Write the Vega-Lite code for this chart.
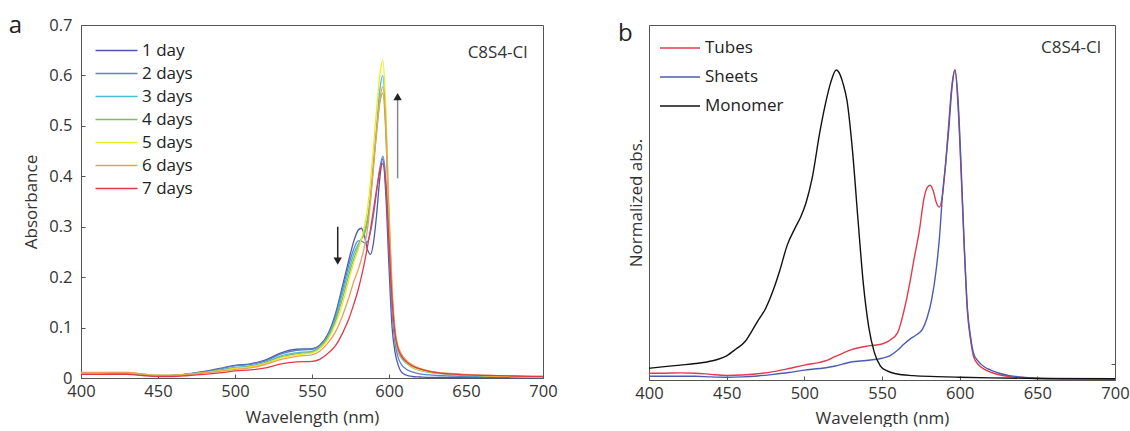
{
"$schema": "https://vega.github.io/schema/vega-lite/v6.json",
"background": "white",
"padding": {"left": 8, "right": 0, "top": 13, "bottom": 0},
"config": {
  "font": "Open Sans",
  "view": {"stroke": "#555", "strokeWidth": 1},
  "axis": {"labelFont": "Open Sans", "labelFontSize": 16.5, "labelColor": "#333", "labelFlush": false, "titleFont": "Open Sans", "titleFontSize": 17, "titleFontWeight": "normal", "titleColor": "#333", "domainColor": "#555", "tickColor": "#555", "tickSize": -4, "grid": false},
  "legend": {"title": null, "symbolStrokeWidth": 1.5, "labelFont": "Open Sans", "labelFontSize": 17, "labelColor": "#222"},
  "title": {"font": "Open Sans", "fontWeight": "normal", "color": "#222"}
},
"spacing": 59,
"resolve": {"scale": {"color": "independent"}},
"datasets": {
"left": [
{"w":400,"a":0.009,"s":"1 day"},{"w":410,"a":0.009,"s":"1 day"},{"w":420,"a":0.009,"s":"1 day"},{"w":430,"a":0.009,"s":"1 day"},{"w":440,"a":0.006,"s":"1 day"},{"w":450,"a":0.004,"s":"1 day"},{"w":460,"a":0.005,"s":"1 day"},{"w":470,"a":0.008,"s":"1 day"},{"w":480,"a":0.013,"s":"1 day"},{"w":490,"a":0.019,"s":"1 day"},{"w":500,"a":0.025,"s":"1 day"},{"w":510,"a":0.028,"s":"1 day"},{"w":520,"a":0.036,"s":"1 day"},{"w":530,"a":0.05,"s":"1 day"},{"w":540,"a":0.057,"s":"1 day"},{"w":550,"a":0.058,"s":"1 day"},{"w":555,"a":0.065,"s":"1 day"},
{"w":560,"a":0.085,"s":"1 day"},{"w":565,"a":0.125,"s":"1 day"},{"w":570,"a":0.185,"s":"1 day"},{"w":574,"a":0.235,"s":"1 day"},{"w":577,"a":0.27,"s":"1 day"},{"w":580,"a":0.293,"s":"1 day"},{"w":582,"a":0.297,"s":"1 day"},{"w":584,"a":0.283,"s":"1 day"},{"w":586,"a":0.255,"s":"1 day"},{"w":588,"a":0.245,"s":"1 day"},{"w":590,"a":0.27,"s":"1 day"},{"w":592,"a":0.325,"s":"1 day"},{"w":594,"a":0.395,"s":"1 day"},{"w":596,"a":0.435,"s":"1 day"},{"w":598,"a":0.36,"s":"1 day"},{"w":600,"a":0.22,"s":"1 day"},{"w":602,"a":0.1,"s":"1 day"},{"w":604,"a":0.05,"s":"1 day"},{"w":606,"a":0.025,"s":"1 day"},{"w":608,"a":0.012,"s":"1 day"},{"w":611,"a":0.006,"s":"1 day"},{"w":615,"a":0.003,"s":"1 day"},{"w":620,"a":0.002,"s":"1 day"},{"w":626,"a":0.001,"s":"1 day"},{"w":632,"a":0.001,"s":"1 day"},{"w":640,"a":0.001,"s":"1 day"},{"w":650,"a":0.001,"s":"1 day"},{"w":665,"a":0.001,"s":"1 day"},{"w":680,"a":0.001,"s":"1 day"},{"w":700,"a":0.001,"s":"1 day"},

{"w":400,"a":0.009,"s":"2 days"},{"w":410,"a":0.009,"s":"2 days"},{"w":420,"a":0.009,"s":"2 days"},{"w":430,"a":0.009,"s":"2 days"},{"w":440,"a":0.006,"s":"2 days"},{"w":450,"a":0.004,"s":"2 days"},{"w":460,"a":0.005,"s":"2 days"},{"w":470,"a":0.008,"s":"2 days"},{"w":480,"a":0.012,"s":"2 days"},{"w":490,"a":0.018,"s":"2 days"},{"w":500,"a":0.024,"s":"2 days"},{"w":510,"a":0.027,"s":"2 days"},{"w":520,"a":0.034,"s":"2 days"},{"w":530,"a":0.048,"s":"2 days"},{"w":540,"a":0.055,"s":"2 days"},{"w":550,"a":0.057,"s":"2 days"},{"w":555,"a":0.064,"s":"2 days"},
{"w":560,"a":0.082,"s":"2 days"},{"w":565,"a":0.12,"s":"2 days"},{"w":570,"a":0.178,"s":"2 days"},{"w":574,"a":0.225,"s":"2 days"},{"w":577,"a":0.255,"s":"2 days"},{"w":580,"a":0.272,"s":"2 days"},{"w":582,"a":0.272,"s":"2 days"},{"w":584,"a":0.268,"s":"2 days"},{"w":586,"a":0.27,"s":"2 days"},{"w":588,"a":0.29,"s":"2 days"},{"w":590,"a":0.325,"s":"2 days"},{"w":592,"a":0.37,"s":"2 days"},{"w":594,"a":0.415,"s":"2 days"},{"w":596,"a":0.44,"s":"2 days"},{"w":598,"a":0.39,"s":"2 days"},{"w":600,"a":0.26,"s":"2 days"},{"w":602,"a":0.13,"s":"2 days"},{"w":604,"a":0.068,"s":"2 days"},{"w":606,"a":0.04,"s":"2 days"},{"w":608,"a":0.027,"s":"2 days"},{"w":611,"a":0.018,"s":"2 days"},{"w":615,"a":0.012,"s":"2 days"},{"w":620,"a":0.008,"s":"2 days"},{"w":626,"a":0.006,"s":"2 days"},{"w":632,"a":0.005,"s":"2 days"},{"w":640,"a":0.004,"s":"2 days"},{"w":650,"a":0.003,"s":"2 days"},{"w":665,"a":0.003,"s":"2 days"},{"w":680,"a":0.002,"s":"2 days"},{"w":700,"a":0.002,"s":"2 days"},

{"w":400,"a":0.01,"s":"3 days"},{"w":410,"a":0.01,"s":"3 days"},{"w":420,"a":0.01,"s":"3 days"},{"w":430,"a":0.01,"s":"3 days"},{"w":440,"a":0.007,"s":"3 days"},{"w":450,"a":0.005,"s":"3 days"},{"w":460,"a":0.005,"s":"3 days"},{"w":470,"a":0.008,"s":"3 days"},{"w":480,"a":0.011,"s":"3 days"},{"w":490,"a":0.016,"s":"3 days"},{"w":500,"a":0.021,"s":"3 days"},{"w":510,"a":0.024,"s":"3 days"},{"w":520,"a":0.031,"s":"3 days"},{"w":530,"a":0.044,"s":"3 days"},{"w":540,"a":0.05,"s":"3 days"},{"w":550,"a":0.053,"s":"3 days"},{"w":555,"a":0.062,"s":"3 days"},
{"w":560,"a":0.08,"s":"3 days"},{"w":565,"a":0.115,"s":"3 days"},{"w":570,"a":0.17,"s":"3 days"},{"w":574,"a":0.215,"s":"3 days"},{"w":577,"a":0.245,"s":"3 days"},{"w":580,"a":0.265,"s":"3 days"},{"w":582,"a":0.275,"s":"3 days"},{"w":584,"a":0.285,"s":"3 days"},{"w":586,"a":0.31,"s":"3 days"},{"w":588,"a":0.36,"s":"3 days"},{"w":590,"a":0.43,"s":"3 days"},{"w":592,"a":0.5,"s":"3 days"},{"w":594,"a":0.57,"s":"3 days"},{"w":596,"a":0.6,"s":"3 days"},{"w":598,"a":0.5,"s":"3 days"},{"w":600,"a":0.31,"s":"3 days"},{"w":602,"a":0.16,"s":"3 days"},{"w":604,"a":0.08,"s":"3 days"},{"w":606,"a":0.052,"s":"3 days"},{"w":608,"a":0.04,"s":"3 days"},{"w":611,"a":0.03,"s":"3 days"},{"w":615,"a":0.021,"s":"3 days"},{"w":620,"a":0.015,"s":"3 days"},{"w":626,"a":0.011,"s":"3 days"},{"w":632,"a":0.009,"s":"3 days"},{"w":640,"a":0.007,"s":"3 days"},{"w":650,"a":0.005,"s":"3 days"},{"w":665,"a":0.004,"s":"3 days"},{"w":680,"a":0.003,"s":"3 days"},{"w":700,"a":0.002,"s":"3 days"},

{"w":400,"a":0.01,"s":"4 days"},{"w":410,"a":0.01,"s":"4 days"},{"w":420,"a":0.01,"s":"4 days"},{"w":430,"a":0.01,"s":"4 days"},{"w":440,"a":0.007,"s":"4 days"},{"w":450,"a":0.005,"s":"4 days"},{"w":460,"a":0.005,"s":"4 days"},{"w":470,"a":0.008,"s":"4 days"},{"w":480,"a":0.011,"s":"4 days"},{"w":490,"a":0.015,"s":"4 days"},{"w":500,"a":0.02,"s":"4 days"},{"w":510,"a":0.023,"s":"4 days"},{"w":520,"a":0.03,"s":"4 days"},{"w":530,"a":0.042,"s":"4 days"},{"w":540,"a":0.048,"s":"4 days"},{"w":550,"a":0.051,"s":"4 days"},{"w":555,"a":0.06,"s":"4 days"},
{"w":560,"a":0.078,"s":"4 days"},{"w":565,"a":0.11,"s":"4 days"},{"w":570,"a":0.16,"s":"4 days"},{"w":574,"a":0.205,"s":"4 days"},{"w":577,"a":0.235,"s":"4 days"},{"w":580,"a":0.26,"s":"4 days"},{"w":582,"a":0.275,"s":"4 days"},{"w":584,"a":0.29,"s":"4 days"},{"w":586,"a":0.315,"s":"4 days"},{"w":588,"a":0.36,"s":"4 days"},{"w":590,"a":0.425,"s":"4 days"},{"w":592,"a":0.49,"s":"4 days"},{"w":594,"a":0.545,"s":"4 days"},{"w":596,"a":0.565,"s":"4 days"},{"w":598,"a":0.48,"s":"4 days"},{"w":600,"a":0.31,"s":"4 days"},{"w":602,"a":0.165,"s":"4 days"},{"w":604,"a":0.085,"s":"4 days"},{"w":606,"a":0.055,"s":"4 days"},{"w":608,"a":0.043,"s":"4 days"},{"w":611,"a":0.032,"s":"4 days"},{"w":615,"a":0.022,"s":"4 days"},{"w":620,"a":0.016,"s":"4 days"},{"w":626,"a":0.012,"s":"4 days"},{"w":632,"a":0.01,"s":"4 days"},{"w":640,"a":0.008,"s":"4 days"},{"w":650,"a":0.006,"s":"4 days"},{"w":665,"a":0.004,"s":"4 days"},{"w":680,"a":0.003,"s":"4 days"},{"w":700,"a":0.002,"s":"4 days"},

{"w":400,"a":0.01,"s":"5 days"},{"w":410,"a":0.01,"s":"5 days"},{"w":420,"a":0.011,"s":"5 days"},{"w":430,"a":0.011,"s":"5 days"},{"w":440,"a":0.008,"s":"5 days"},{"w":450,"a":0.005,"s":"5 days"},{"w":460,"a":0.005,"s":"5 days"},{"w":470,"a":0.007,"s":"5 days"},{"w":480,"a":0.01,"s":"5 days"},{"w":490,"a":0.014,"s":"5 days"},{"w":500,"a":0.019,"s":"5 days"},{"w":510,"a":0.022,"s":"5 days"},{"w":520,"a":0.029,"s":"5 days"},{"w":530,"a":0.04,"s":"5 days"},{"w":540,"a":0.046,"s":"5 days"},{"w":550,"a":0.05,"s":"5 days"},{"w":555,"a":0.058,"s":"5 days"},
{"w":560,"a":0.075,"s":"5 days"},{"w":565,"a":0.105,"s":"5 days"},{"w":570,"a":0.15,"s":"5 days"},{"w":574,"a":0.195,"s":"5 days"},{"w":577,"a":0.228,"s":"5 days"},{"w":580,"a":0.255,"s":"5 days"},{"w":582,"a":0.275,"s":"5 days"},{"w":584,"a":0.3,"s":"5 days"},{"w":586,"a":0.335,"s":"5 days"},{"w":588,"a":0.39,"s":"5 days"},{"w":590,"a":0.46,"s":"5 days"},{"w":592,"a":0.535,"s":"5 days"},{"w":594,"a":0.6,"s":"5 days"},{"w":596,"a":0.63,"s":"5 days"},{"w":598,"a":0.53,"s":"5 days"},{"w":600,"a":0.33,"s":"5 days"},{"w":602,"a":0.17,"s":"5 days"},{"w":604,"a":0.085,"s":"5 days"},{"w":606,"a":0.055,"s":"5 days"},{"w":608,"a":0.043,"s":"5 days"},{"w":611,"a":0.032,"s":"5 days"},{"w":615,"a":0.022,"s":"5 days"},{"w":620,"a":0.016,"s":"5 days"},{"w":626,"a":0.012,"s":"5 days"},{"w":632,"a":0.01,"s":"5 days"},{"w":640,"a":0.008,"s":"5 days"},{"w":650,"a":0.006,"s":"5 days"},{"w":665,"a":0.004,"s":"5 days"},{"w":680,"a":0.003,"s":"5 days"},{"w":700,"a":0.002,"s":"5 days"},

{"w":400,"a":0.011,"s":"6 days"},{"w":410,"a":0.011,"s":"6 days"},{"w":420,"a":0.011,"s":"6 days"},{"w":430,"a":0.011,"s":"6 days"},{"w":440,"a":0.008,"s":"6 days"},{"w":450,"a":0.005,"s":"6 days"},{"w":460,"a":0.005,"s":"6 days"},{"w":470,"a":0.007,"s":"6 days"},{"w":480,"a":0.01,"s":"6 days"},{"w":490,"a":0.013,"s":"6 days"},{"w":500,"a":0.017,"s":"6 days"},{"w":510,"a":0.02,"s":"6 days"},{"w":520,"a":0.027,"s":"6 days"},{"w":530,"a":0.037,"s":"6 days"},{"w":540,"a":0.043,"s":"6 days"},{"w":550,"a":0.046,"s":"6 days"},{"w":555,"a":0.053,"s":"6 days"},
{"w":560,"a":0.068,"s":"6 days"},{"w":565,"a":0.09,"s":"6 days"},{"w":570,"a":0.125,"s":"6 days"},{"w":574,"a":0.16,"s":"6 days"},{"w":577,"a":0.19,"s":"6 days"},{"w":580,"a":0.215,"s":"6 days"},{"w":582,"a":0.235,"s":"6 days"},{"w":584,"a":0.26,"s":"6 days"},{"w":586,"a":0.295,"s":"6 days"},{"w":588,"a":0.35,"s":"6 days"},{"w":590,"a":0.42,"s":"6 days"},{"w":592,"a":0.49,"s":"6 days"},{"w":594,"a":0.55,"s":"6 days"},{"w":596,"a":0.578,"s":"6 days"},{"w":598,"a":0.5,"s":"6 days"},{"w":600,"a":0.33,"s":"6 days"},{"w":602,"a":0.18,"s":"6 days"},{"w":604,"a":0.095,"s":"6 days"},{"w":606,"a":0.062,"s":"6 days"},{"w":608,"a":0.048,"s":"6 days"},{"w":611,"a":0.036,"s":"6 days"},{"w":615,"a":0.026,"s":"6 days"},{"w":620,"a":0.019,"s":"6 days"},{"w":626,"a":0.014,"s":"6 days"},{"w":632,"a":0.011,"s":"6 days"},{"w":640,"a":0.009,"s":"6 days"},{"w":650,"a":0.007,"s":"6 days"},{"w":665,"a":0.005,"s":"6 days"},{"w":680,"a":0.004,"s":"6 days"},{"w":700,"a":0.003,"s":"6 days"},

{"w":400,"a":0.007,"s":"7 days"},{"w":410,"a":0.007,"s":"7 days"},{"w":420,"a":0.007,"s":"7 days"},{"w":430,"a":0.007,"s":"7 days"},{"w":440,"a":0.005,"s":"7 days"},{"w":450,"a":0.003,"s":"7 days"},{"w":460,"a":0.003,"s":"7 days"},{"w":470,"a":0.005,"s":"7 days"},{"w":480,"a":0.007,"s":"7 days"},{"w":490,"a":0.01,"s":"7 days"},{"w":500,"a":0.014,"s":"7 days"},{"w":510,"a":0.016,"s":"7 days"},{"w":520,"a":0.02,"s":"7 days"},{"w":530,"a":0.028,"s":"7 days"},{"w":540,"a":0.032,"s":"7 days"},{"w":550,"a":0.033,"s":"7 days"},{"w":555,"a":0.037,"s":"7 days"},
{"w":560,"a":0.048,"s":"7 days"},{"w":565,"a":0.063,"s":"7 days"},{"w":570,"a":0.09,"s":"7 days"},{"w":574,"a":0.118,"s":"7 days"},{"w":577,"a":0.145,"s":"7 days"},{"w":580,"a":0.175,"s":"7 days"},{"w":582,"a":0.2,"s":"7 days"},{"w":584,"a":0.228,"s":"7 days"},{"w":586,"a":0.26,"s":"7 days"},{"w":588,"a":0.295,"s":"7 days"},{"w":590,"a":0.335,"s":"7 days"},{"w":592,"a":0.375,"s":"7 days"},{"w":594,"a":0.41,"s":"7 days"},{"w":596,"a":0.425,"s":"7 days"},{"w":598,"a":0.38,"s":"7 days"},{"w":600,"a":0.27,"s":"7 days"},{"w":602,"a":0.155,"s":"7 days"},{"w":604,"a":0.085,"s":"7 days"},{"w":606,"a":0.057,"s":"7 days"},{"w":608,"a":0.044,"s":"7 days"},{"w":611,"a":0.033,"s":"7 days"},{"w":615,"a":0.024,"s":"7 days"},{"w":620,"a":0.018,"s":"7 days"},{"w":626,"a":0.013,"s":"7 days"},{"w":632,"a":0.01,"s":"7 days"},{"w":640,"a":0.008,"s":"7 days"},{"w":650,"a":0.006,"s":"7 days"},{"w":665,"a":0.005,"s":"7 days"},{"w":680,"a":0.004,"s":"7 days"},{"w":700,"a":0.003,"s":"7 days"}
],
"right": [
{"w":400,"a":0.022,"s":"Tubes"},{"w":410,"a":0.022,"s":"Tubes"},{"w":420,"a":0.023,"s":"Tubes"},{"w":430,"a":0.022,"s":"Tubes"},{"w":440,"a":0.018,"s":"Tubes"},{"w":450,"a":0.015,"s":"Tubes"},{"w":460,"a":0.016,"s":"Tubes"},{"w":470,"a":0.02,"s":"Tubes"},{"w":480,"a":0.027,"s":"Tubes"},{"w":490,"a":0.037,"s":"Tubes"},{"w":500,"a":0.048,"s":"Tubes"},{"w":510,"a":0.057,"s":"Tubes"},{"w":515,"a":0.064,"s":"Tubes"},{"w":520,"a":0.076,"s":"Tubes"},{"w":525,"a":0.087,"s":"Tubes"},{"w":530,"a":0.097,"s":"Tubes"},{"w":535,"a":0.104,"s":"Tubes"},{"w":540,"a":0.109,"s":"Tubes"},{"w":545,"a":0.112,"s":"Tubes"},{"w":550,"a":0.116,"s":"Tubes"},{"w":555,"a":0.128,"s":"Tubes"},{"w":560,"a":0.152,"s":"Tubes"},{"w":564,"a":0.22,"s":"Tubes"},{"w":568,"a":0.316,"s":"Tubes"},{"w":571,"a":0.4,"s":"Tubes"},{"w":574,"a":0.48,"s":"Tubes"},{"w":577,"a":0.585,"s":"Tubes"},{"w":579,"a":0.62,"s":"Tubes"},{"w":581,"a":0.628,"s":"Tubes"},{"w":583,"a":0.61,"s":"Tubes"},{"w":585,"a":0.572,"s":"Tubes"},{"w":587,"a":0.558,"s":"Tubes"},{"w":589,"a":0.6,"s":"Tubes"},{"w":591,"a":0.7,"s":"Tubes"},{"w":593,"a":0.83,"s":"Tubes"},{"w":595,"a":0.95,"s":"Tubes"},{"w":597,"a":1.0,"s":"Tubes"},{"w":599,"a":0.88,"s":"Tubes"},{"w":601,"a":0.66,"s":"Tubes"},{"w":603,"a":0.42,"s":"Tubes"},{"w":605,"a":0.22,"s":"Tubes"},{"w":607,"a":0.13,"s":"Tubes"},{"w":609,"a":0.075,"s":"Tubes"},{"w":612,"a":0.05,"s":"Tubes"},{"w":616,"a":0.034,"s":"Tubes"},{"w":620,"a":0.025,"s":"Tubes"},{"w":626,"a":0.016,"s":"Tubes"},{"w":632,"a":0.011,"s":"Tubes"},{"w":640,"a":0.008,"s":"Tubes"},{"w":650,"a":0.005,"s":"Tubes"},{"w":670,"a":0.004,"s":"Tubes"},{"w":700,"a":0.003,"s":"Tubes"},

{"w":400,"a":0.012,"s":"Sheets"},{"w":410,"a":0.012,"s":"Sheets"},{"w":420,"a":0.012,"s":"Sheets"},{"w":430,"a":0.012,"s":"Sheets"},{"w":440,"a":0.01,"s":"Sheets"},{"w":450,"a":0.009,"s":"Sheets"},{"w":460,"a":0.01,"s":"Sheets"},{"w":470,"a":0.013,"s":"Sheets"},{"w":480,"a":0.018,"s":"Sheets"},{"w":490,"a":0.024,"s":"Sheets"},{"w":500,"a":0.032,"s":"Sheets"},{"w":510,"a":0.037,"s":"Sheets"},{"w":520,"a":0.045,"s":"Sheets"},{"w":525,"a":0.052,"s":"Sheets"},{"w":530,"a":0.058,"s":"Sheets"},{"w":540,"a":0.063,"s":"Sheets"},{"w":550,"a":0.07,"s":"Sheets"},{"w":555,"a":0.078,"s":"Sheets"},{"w":560,"a":0.096,"s":"Sheets"},{"w":564,"a":0.115,"s":"Sheets"},{"w":568,"a":0.132,"s":"Sheets"},{"w":572,"a":0.145,"s":"Sheets"},{"w":576,"a":0.163,"s":"Sheets"},{"w":579,"a":0.2,"s":"Sheets"},{"w":582,"a":0.26,"s":"Sheets"},{"w":585,"a":0.36,"s":"Sheets"},{"w":587,"a":0.46,"s":"Sheets"},{"w":589,"a":0.6,"s":"Sheets"},{"w":591,"a":0.7,"s":"Sheets"},{"w":593,"a":0.81,"s":"Sheets"},{"w":595,"a":0.94,"s":"Sheets"},{"w":597,"a":1.0,"s":"Sheets"},{"w":599,"a":0.9,"s":"Sheets"},{"w":601,"a":0.68,"s":"Sheets"},{"w":603,"a":0.43,"s":"Sheets"},{"w":605,"a":0.23,"s":"Sheets"},{"w":607,"a":0.14,"s":"Sheets"},{"w":609,"a":0.085,"s":"Sheets"},{"w":612,"a":0.06,"s":"Sheets"},{"w":616,"a":0.042,"s":"Sheets"},{"w":620,"a":0.032,"s":"Sheets"},{"w":626,"a":0.021,"s":"Sheets"},{"w":632,"a":0.014,"s":"Sheets"},{"w":640,"a":0.009,"s":"Sheets"},{"w":650,"a":0.006,"s":"Sheets"},{"w":670,"a":0.004,"s":"Sheets"},{"w":700,"a":0.003,"s":"Sheets"},

{"w":400,"a":0.038,"s":"Monomer"},{"w":410,"a":0.043,"s":"Monomer"},{"w":420,"a":0.048,"s":"Monomer"},{"w":430,"a":0.053,"s":"Monomer"},{"w":438,"a":0.059,"s":"Monomer"},{"w":444,"a":0.066,"s":"Monomer"},{"w":450,"a":0.078,"s":"Monomer"},{"w":456,"a":0.1,"s":"Monomer"},{"w":462,"a":0.125,"s":"Monomer"},{"w":466,"a":0.156,"s":"Monomer"},{"w":470,"a":0.19,"s":"Monomer"},{"w":475,"a":0.23,"s":"Monomer"},{"w":480,"a":0.29,"s":"Monomer"},{"w":484,"a":0.35,"s":"Monomer"},{"w":489,"a":0.435,"s":"Monomer"},{"w":494,"a":0.49,"s":"Monomer"},{"w":498,"a":0.53,"s":"Monomer"},{"w":501,"a":0.57,"s":"Monomer"},{"w":505,"a":0.65,"s":"Monomer"},{"w":510,"a":0.8,"s":"Monomer"},{"w":514,"a":0.9,"s":"Monomer"},{"w":517,"a":0.96,"s":"Monomer"},{"w":520.5,"a":1.0,"s":"Monomer"},{"w":523,"a":0.985,"s":"Monomer"},{"w":525,"a":0.955,"s":"Monomer"},{"w":527.5,"a":0.9,"s":"Monomer"},{"w":531,"a":0.74,"s":"Monomer"},{"w":534.5,"a":0.52,"s":"Monomer"},{"w":538,"a":0.31,"s":"Monomer"},{"w":541.5,"a":0.17,"s":"Monomer"},{"w":545,"a":0.09,"s":"Monomer"},{"w":549,"a":0.045,"s":"Monomer"},{"w":553,"a":0.03,"s":"Monomer"},{"w":559,"a":0.02,"s":"Monomer"},{"w":570,"a":0.014,"s":"Monomer"},{"w":585,"a":0.011,"s":"Monomer"},{"w":600,"a":0.009,"s":"Monomer"},{"w":620,"a":0.007,"s":"Monomer"},{"w":650,"a":0.005,"s":"Monomer"},{"w":700,"a":0.004,"s":"Monomer"}
]
},
"hconcat": [
{
  "width": 462, "height": 353,
  "title": {"text": "a", "anchor": "start", "frame": "bounds", "fontSize": 24, "dx": -14, "dy": 21, "offset": 0},
  "layer": [
    {"data": {"name": "left"},
     "mark": {"type": "line", "interpolate": "monotone", "strokeWidth": 1.3},
     "encoding": {
       "x": {"field": "w", "type": "quantitative", "scale": {"domain": [400, 700], "nice": false}, "axis": {"title": "Wavelength (nm)", "values": [400,450,500,550,600,650,700], "labelPadding": 9, "titlePadding": 10}},
       "y": {"field": "a", "type": "quantitative", "scale": {"domain": [0, 0.7], "nice": false}, "axis": {"title": "Absorbance", "values": [0,0.1,0.2,0.3,0.4,0.5,0.6,0.7], "format": "~g", "labelPadding": 13, "titlePadding": 8}},
       "color": {"field": "s", "type": "nominal", "scale": {"domain": ["1 day","2 days","3 days","4 days","5 days","6 days","7 days"], "range": ["#4b57b4","#5a83cf","#45bfd6","#82bb5a","#ecec1e","#ee9e5a","#e03a48"]},
         "legend": {"orient": "none", "legendX": 24, "legendY": 14, "symbolType": "M-2,0H2", "symbolSize": 441, "rowPadding": 3, "labelOffset": 14}}
     }},
    {"data": {"values": [{}]},
     "mark": {"type": "rule", "color": "#222", "strokeWidth": 1.5},
     "encoding": {"x": {"datum": 566.7}, "y": {"datum": 0.3}, "y2": {"datum": 0.238}}},
    {"data": {"values": [{}]},
     "mark": {"type": "point", "shape": "triangle-down", "filled": true, "color": "#222", "size": 70, "opacity": 1},
     "encoding": {"x": {"datum": 566.7}, "y": {"datum": 0.232}}},
    {"data": {"values": [{}]},
     "mark": {"type": "rule", "color": "#888", "strokeWidth": 1.5},
     "encoding": {"x": {"datum": 605.6}, "y": {"datum": 0.396}, "y2": {"datum": 0.552}}},
    {"data": {"values": [{}]},
     "mark": {"type": "point", "shape": "triangle-up", "filled": true, "color": "#222", "size": 70, "opacity": 1},
     "encoding": {"x": {"datum": 605.6}, "y": {"datum": 0.558}}},
    {"data": {"values": [{}]},
     "mark": {"type": "text", "text": "C8S4-Cl", "align": "right", "baseline": "middle", "fontSize": 17, "color": "#333", "font": "Open Sans"},
     "encoding": {"x": {"datum": 690}, "y": {"datum": 0.645}}}
  ]
},
{
  "width": 466, "height": 355,
  "title": {"text": "b", "anchor": "start", "frame": "bounds", "fontSize": 24, "dx": -9, "dy": 21, "offset": 0},
  "resolve": {"axis": {"y": "independent"}},
  "layer": [
    {"data": {"name": "right"},
     "mark": {"type": "line", "interpolate": "monotone", "strokeWidth": 1.4},
     "encoding": {
       "x": {"field": "w", "type": "quantitative", "scale": {"domain": [400, 700], "nice": false}, "axis": {"title": "Wavelength (nm)", "values": [400,450,500,550,600,650,700], "labelPadding": 9, "titlePadding": 9}},
       "y": {"field": "a", "type": "quantitative", "scale": {"domain": [0, 1.145], "nice": false}, "axis": {"title": "Normalized abs.", "labels": false, "ticks": false, "titlePadding": 4}},
       "color": {"field": "s", "type": "nominal", "scale": {"domain": ["Tubes","Sheets","Monomer"], "range": ["#e23b4a","#4a5cb0","#111111"]},
         "legend": {"orient": "none", "legendX": 10, "legendY": 2, "symbolType": "stroke", "symbolSize": 1600, "rowPadding": -10, "labelOffset": 4}}
     }},
    {"data": {"values": [{}]},
     "mark": {"type": "text", "text": "C8S4-Cl", "align": "right", "baseline": "middle", "fontSize": 17, "color": "#333", "font": "Open Sans"},
     "encoding": {"x": {"datum": 691}, "y": {"datum": 1.071, "axis": {"orient": "right", "values": [0.05], "labels": false, "title": null, "domain": false}}}}
  ]
}
]
}
